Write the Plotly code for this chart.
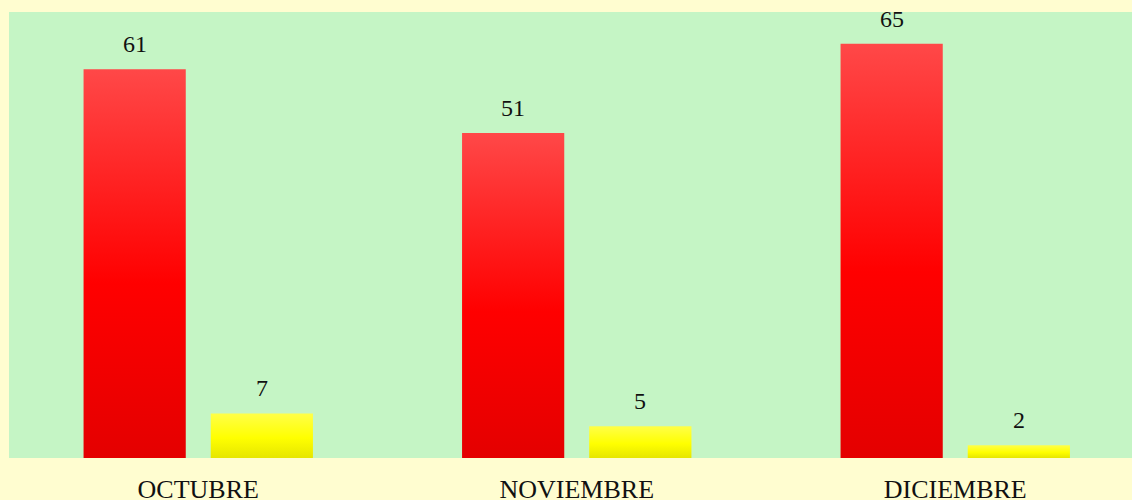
import plotly.graph_objects as go

categories = ["OCTUBRE", "NOVIEMBRE", "DICIEMBRE"]
red_values = [61, 51, 65]
yellow_values = [7, 5, 2]

BAR_W = 0.27
OFFSET = 0.168
FONT = "Liberation Serif"

red_scale = [[0, "#E40000"], [0.45, "#FF0000"], [1, "#FF4848"]]
yellow_scale = [[0, "#E6E600"], [0.45, "#FFFF00"], [1, "#FFFF48"]]

fig = go.Figure()
annotations = []
for series, off, scale in [(red_values, -OFFSET, red_scale), (yellow_values, OFFSET, yellow_scale)]:
    for i, v in enumerate(series):
        xc = i + off
        x0, x1 = xc - BAR_W / 2, xc + BAR_W / 2
        fig.add_trace(go.Scatter(
            x=[x0, x1, x1, x0, x0], y=[0, 0, v, v, 0],
            mode="lines", line=dict(width=0), fill="toself",
            fillgradient=dict(type="vertical", colorscale=scale),
            hoverinfo="skip", showlegend=False))
        annotations.append(dict(x=xc, y=v, text=str(v), showarrow=False,
                                yanchor="bottom", yshift=10,
                                font=dict(family=FONT, size=24, color="#111111")))

fig.update_layout(
    width=1132, height=500,
    margin=dict(l=9, r=0, t=12, b=42),
    paper_bgcolor="#FFFDD0",
    plot_bgcolor="#C5F5C5",
    annotations=annotations,
    showlegend=False,
    font=dict(family=FONT, size=24, color="#111111"),
)
fig.update_xaxes(range=[-0.5, 2.467], tickvals=list(range(len(categories))), ticktext=categories,
                 showgrid=False, zeroline=False, showline=False, automargin=False,
                 ticks="outside", ticklen=8, tickcolor="rgba(0,0,0,0)",
                 tickfont=dict(family=FONT, size=26, color="#111111"))
fig.update_yaxes(range=[0, 70], showgrid=False, zeroline=False, showticklabels=False,
                 showline=False, automargin=False)

fig.write_html("out.html", config={"displayModeBar": False},
               post_script="document.body.style.margin='0';document.body.style.overflow='hidden';")
